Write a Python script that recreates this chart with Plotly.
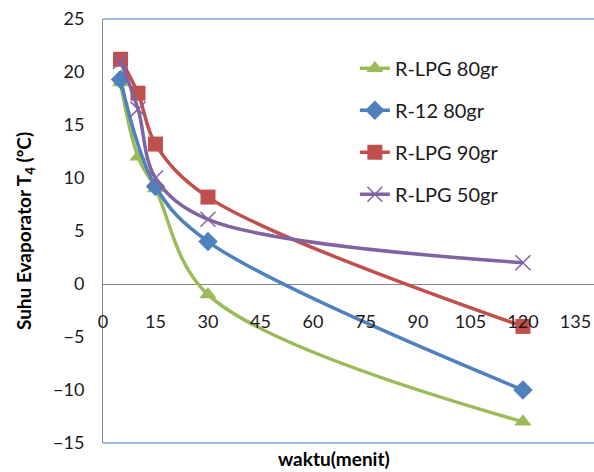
import plotly.graph_objects as go

waktu_lpg80 = [5, 10, 15, 30, 120]
suhu_lpg80 = [19, 12, 9, -1, -13]
waktu_r12 = [5, 15, 30, 120]
suhu_r12 = [19.3, 9.2, 4, -10]
waktu_lpg90 = [5, 10, 15, 30, 120]
suhu_lpg90 = [21.2, 18, 13.2, 8.2, -4]
waktu_lpg50 = [5, 10, 15, 30, 120]
suhu_lpg50 = [21, 16.5, 10, 6.1, 2]

x_ticks = [0, 15, 30, 45, 60, 75, 90, 105, 120, 135]
y_ticks = [-15, -10, -5, 0, 5, 10, 15, 20, 25]

FONT = "Lato"
fig = go.Figure()

series = [
    ("R-LPG 80gr", waktu_lpg80, suhu_lpg80, "#9BBB59", dict(symbol="triangle-up", size=15)),
    ("R-12 80gr", waktu_r12, suhu_r12, "#4F81BD", dict(symbol="diamond", size=15)),
    ("R-LPG 90gr", waktu_lpg90, suhu_lpg90, "#C0504D", dict(symbol="square", size=15)),
    ("R-LPG 50gr", waktu_lpg50, suhu_lpg50, "#8064A2", dict(symbol="x-thin", size=15)),
]
for name, xs, ys, col, mk in series:
    marker = dict(color=col, **mk)
    if mk["symbol"] == "x-thin":
        marker["line"] = dict(color=col, width=1.5)
    fig.add_trace(go.Scatter(
        x=xs, y=ys, name=name, mode="lines+markers",
        line=dict(color=col, width=3.5, shape="spline", smoothing=1),
        marker=marker, legendgroup=name,
    ))

fig.update_layout(
    width=594, height=472,
    margin=dict(l=103, r=0, t=19, b=29),
    paper_bgcolor="white", plot_bgcolor="white",
    font=dict(family=FONT, size=18, color="#000000"),
    showlegend=True,
    legend=dict(x=0.513, y=0.93, xanchor="left", yanchor="top",
                bgcolor="rgba(0,0,0,0)", tracegroupgap=13,
                font=dict(family=FONT, size=20, color="#1a1a1a")),
    xaxis=dict(range=[0, 140.3], tickvals=x_ticks, showgrid=False,
               zeroline=False, showline=False, anchor="free", position=0.315,
               ticks="", tickfont=dict(family=FONT, size=18, color="#1a1a1a")),
    yaxis=dict(range=[-15, 25], tickvals=y_ticks, showgrid=False,
               zeroline=True, zerolinecolor="#868686", zerolinewidth=1,
               showline=True, linecolor="#868686", linewidth=1,
               ticks="", ticklabelstandoff=14,
               tickfont=dict(family=FONT, size=18, color="#1a1a1a"),
               title=dict(text="<b>Suhu Evaporator T<sub>4</sub> (ºC)</b>",
                          standoff=16, font=dict(family=FONT, size=19))),
    annotations=[dict(text="<b>waktu(menit)</b>", xref="paper", yref="paper",
                      x=0.47, y=-0.037, xanchor="center", yanchor="middle",
                      showarrow=False, font=dict(family=FONT, size=19))],
)

# plot-area top and bottom border lines
fig.add_shape(type="line", xref="paper", yref="paper", x0=0, x1=1, y0=1, y1=1,
              line=dict(color="#7FA4D6", width=1.5))
fig.add_shape(type="line", xref="paper", yref="paper", x0=0, x1=1, y0=0, y1=0,
              line=dict(color="#7FA4D6", width=1.5))

fig.write_html("out.html")
